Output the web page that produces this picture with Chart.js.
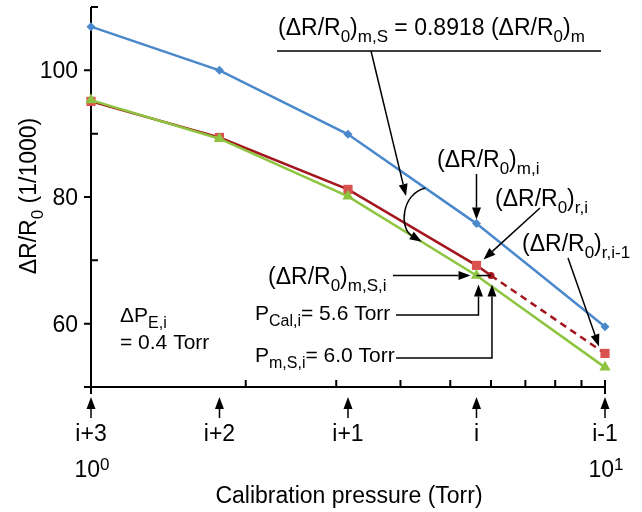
<!DOCTYPE html>
<html>
<head>
<meta charset="utf-8">
<script src="https://cdn.jsdelivr.net/npm/chart.js@4/dist/chart.umd.min.js"></script>
<style>
  html, body { margin: 0; padding: 0; background: #ffffff; }
  #wrap { width: 642px; height: 512px; }
</style>
</head>
<body>
<div id="wrap"><canvas id="c" width="642" height="512"></canvas></div>
<script>
// Calibration steps and their pressures (Torr, log axis)
const stepLabels = ['i+3', 'i+2', 'i+1', 'i', 'i-1'];
const pressures = [1.0, 1.778, 3.162, 5.623, 10.0];

// ΔR/R0 (1/1000) per calibration step
const measured = [106.9, 100.0, 89.9, 75.8, 59.5];        // (ΔR/R0)m
const reference = [95.1, 89.4, 81.2, 69.2, 55.3];        // (ΔR/R0)r
const scaledMeasured = [95.3, 89.2, 80.1, 67.6, 53.1];   // (ΔR/R0)m,S

// Interpolated reference point at the shifted pressure
const interpPressure = 6.0;
const interpValue = 67.6;

// Axis ticks
const yMajorTicks = [60, 80, 100];
const yMinorTicks = [70, 90];
const xMinorTicks = [2, 3, 4, 5, 6, 7, 8, 9];
const decadeTicks = [{ v: 1, base: '10', exp: '0' }, { v: 10, base: '10', exp: '1' }];

const FONT = '"Liberation Sans", Arial, Helvetica, sans-serif';
const BLUE = '#4A88CB';
const GREEN = '#8DC540';
const RED_MARK = '#D9524F';
const RED_LINE = '#A3161E';

function font(size) { return size + 'px ' + FONT; }

// Draw a run of text pieces; kind '' = normal, 'sub' = subscript, 'sup' = superscript
function rich(ctx, x, y, parts, size, small, align) {
  const widths = parts.map(([t, k]) => { ctx.font = font(k ? small : size); return ctx.measureText(t).width; });
  const total = widths.reduce((a, b) => a + b, 0);
  let cx = align === 'center' ? x - total / 2 : align === 'right' ? x - total : x;
  ctx.textAlign = 'left';
  ctx.textBaseline = 'alphabetic';
  parts.forEach(([t, k], i) => {
    ctx.font = font(k ? small : size);
    const dy = k === 'sub' ? size * 0.3 : k === 'sup' ? -size * 0.32 : 0;
    ctx.fillText(t, cx, y + dy);
    cx += widths[i];
  });
  return total;
}

function arrowHead(ctx, tx, ty, ang, head, half) {
  const bx = tx - Math.cos(ang) * head, by = ty - Math.sin(ang) * head;
  ctx.beginPath();
  ctx.moveTo(tx, ty);
  ctx.lineTo(bx - Math.sin(ang) * half, by + Math.cos(ang) * half);
  ctx.lineTo(bx + Math.sin(ang) * half, by - Math.cos(ang) * half);
  ctx.closePath();
  ctx.fill();
  return [bx, by];
}

// Polyline ending in a filled arrowhead at its last point
function arrow(ctx, pts, head = 12, half = 4.5) {
  const n = pts.length;
  const [tx, ty] = pts[n - 1];
  const [fx, fy] = pts[n - 2];
  const ang = Math.atan2(ty - fy, tx - fx);
  const [bx, by] = arrowHead(ctx, tx, ty, ang, head, half);
  ctx.beginPath();
  ctx.moveTo(pts[0][0], pts[0][1]);
  for (let i = 1; i < n - 1; i++) ctx.lineTo(pts[i][0], pts[i][1]);
  ctx.lineTo(bx, by);
  ctx.stroke();
}

const RdR = (sub) => [['(ΔR/R', ''], ['0', 'sub'], [')', ''], [sub, 'sub']];

const axesPlugin = {
  id: 'axesPlugin',
  beforeDatasetsDraw(chart) {
    const { ctx, chartArea: a, scales: { x, y } } = chart;
    ctx.save();
    ctx.strokeStyle = '#000';
    ctx.fillStyle = '#000';
    ctx.lineWidth = 2;
    // y axis line and ticks
    ctx.beginPath();
    ctx.moveTo(a.left, a.top); ctx.lineTo(a.left, a.bottom);
    ctx.moveTo(a.left, a.top); ctx.lineTo(a.left + 7, a.top);
    yMajorTicks.forEach(v => { const py = y.getPixelForValue(v); ctx.moveTo(a.left - 7, py); ctx.lineTo(a.left, py); });
    yMinorTicks.forEach(v => { const py = y.getPixelForValue(v); ctx.moveTo(a.left, py); ctx.lineTo(a.left + 7, py); });
    // x axis line and ticks
    ctx.moveTo(a.left - 7, a.bottom); ctx.lineTo(a.right, a.bottom);
    xMinorTicks.forEach(v => { const px = x.getPixelForValue(v); ctx.moveTo(px, a.bottom); ctx.lineTo(px, a.bottom - 7); });
    ctx.moveTo(a.left, a.bottom); ctx.lineTo(a.left, a.bottom + 7);
    ctx.moveTo(a.right, a.bottom - 7); ctx.lineTo(a.right, a.bottom + 7);
    ctx.stroke();

    // y tick labels
    ctx.font = font(23);
    ctx.textAlign = 'right';
    ctx.textBaseline = 'alphabetic';
    yMajorTicks.forEach(v => ctx.fillText(String(v), a.left - 13, y.getPixelForValue(v) + 8));

    // step arrows and labels under the x axis
    ctx.lineWidth = 1.5;
    stepLabels.forEach((lab, i) => {
      const px = x.getPixelForValue(pressures[i]);
      arrow(ctx, [[px, a.bottom + 31], [px, a.bottom + 10]], 12, 4.5);
      ctx.font = font(23);
      ctx.textAlign = 'center';
      ctx.fillText(lab, px, a.bottom + 54);
    });
    decadeTicks.forEach(d => {
      rich(ctx, x.getPixelForValue(d.v) + 1, a.bottom + 90, [[d.base, ''], [d.exp, 'sup']], 23, 17, 'center');
    });

    // axis titles
    ctx.font = font(23);
    ctx.textAlign = 'center';
    ctx.fillText('Calibration pressure (Torr)', (a.left + a.right) / 2 + 1, a.bottom + 116);
    ctx.save();
    ctx.translate(36, (a.top + a.bottom) / 2 - 1);
    ctx.rotate(-Math.PI / 2);
    rich(ctx, 0, 0, [['ΔR/R', ''], ['0', 'sub'], [' (1/1000)', '']], 23, 17, 'center');
    ctx.restore();
    ctx.restore();
  },
  afterDatasetsDraw(chart) {
    const { ctx, scales: { x, y } } = chart;
    const P = (p, v) => [x.getPixelForValue(p), y.getPixelForValue(v)];
    // pixel y on a polyline series at a given pressure
    const onLine = (vals, p) => {
      const px = x.getPixelForValue(p);
      for (let i = 0; i < pressures.length - 1; i++) {
        const [x0, y0] = P(pressures[i], vals[i]);
        const [x1, y1] = P(pressures[i + 1], vals[i + 1]);
        if (px >= x0 && px <= x1) return [px, y0 + (y1 - y0) * (px - x0) / (x1 - x0)];
      }
      return P(p, vals[vals.length - 1]);
    };
    const [bx, by] = P(pressures[3], measured[3]);
    const [rx, ry] = P(pressures[3], reference[3]);
    const [gx, gy] = P(pressures[3], scaledMeasured[3]);
    const [r4x, r4y] = P(pressures[4], reference[4]);
    const [dx, dy] = P(interpPressure, interpValue);

    ctx.save();
    ctx.fillStyle = '#000';
    ctx.strokeStyle = '#000';
    ctx.lineWidth = 1.5;

    // scaling relation, underlined, with a leader to the curved arrow
    rich(ctx, 278, 35, [...RdR('m,S'), [' = 0.8918 (ΔR/R', ''], ['0', 'sub'], [')', ''], ['m', 'sub']], 23, 17, 'left');
    ctx.beginPath(); ctx.moveTo(277, 51); ctx.lineTo(601, 51); ctx.stroke();
    arrow(ctx, [[371, 51], [406, 196]]);

    // curved arrow from the measured line down to the scaled line
    const s = onLine(measured, 4.47);
    const e = onLine(scaledMeasured, 4.40);
    const c1 = [s[0] - 24, s[1] + 6], c2 = [s[0] - 26, s[1] + 40];
    const ang = Math.atan2(e[1] - c2[1], e[0] - c2[0]);
    const hb = arrowHead(ctx, e[0], e[1], ang, 12, 4.5);
    ctx.beginPath(); ctx.moveTo(s[0], s[1]); ctx.bezierCurveTo(c1[0], c1[1], c2[0], c2[1], hb[0], hb[1]); ctx.stroke();

    // point labels
    rich(ctx, 437, 167, RdR('m,i'), 23, 17, 'left');
    arrow(ctx, [[bx, 174], [bx, by - 4]]);
    rich(ctx, 495, 206, RdR('r,i'), 23, 17, 'left');
    arrow(ctx, [[540, 208], [rx + 7, ry - 6]]);
    rich(ctx, 522, 251, RdR('r,i-1'), 23, 17, 'left');
    arrow(ctx, [[568, 258], [r4x - 6, r4y - 7]]);
    rich(ctx, 268, 284, RdR('m,S,i'), 23, 17, 'left');
    arrow(ctx, [[393, gy], [gx - 6, gy]]);

    // link from the scaled point to the interpolated reference point
    ctx.beginPath(); ctx.moveTo(gx, gy); ctx.lineTo(dx, dy); ctx.stroke();

    // pressure labels with elbow arrows
    rich(ctx, 255, 320, [['P', ''], ['Cal,i', 'sub'], ['= 5.6 Torr', '']], 21, 16, 'left');
    arrow(ctx, [[396, 315], [gx + 2, 315], [gx + 2, gy + 9]]);
    rich(ctx, 255, 362, [['P', ''], ['m,S,i', 'sub'], ['= 6.0 Torr', '']], 21, 16, 'left');
    arrow(ctx, [[396, 358], [dx + 1, 358], [dx + 1, dy + 9]]);

    // pressure step note
    rich(ctx, 120, 322, [['ΔP', ''], ['E,i', 'sub']], 21, 16, 'left');
    rich(ctx, 120, 349, [['= 0.4 Torr', '']], 21, 16, 'left');
    ctx.restore();
  }
};

const redData = pressures.map((p, i) => ({ x: p, y: reference[i] }));
redData.splice(4, 0, { x: interpPressure, y: interpValue });
const isInterp = d => d.x === interpPressure;

new Chart(document.getElementById('c'), {
  type: 'line',
  data: {
    datasets: [
      {
        label: '(ΔR/R0)m,S',
        data: pressures.map((p, i) => ({ x: p, y: scaledMeasured[i] })),
        borderColor: GREEN, backgroundColor: GREEN, borderWidth: 2.5,
        pointStyle: 'triangle', pointRadius: 6.5, pointBorderWidth: 0,
        pointBackgroundColor: GREEN, clip: false
      },
      {
        label: '(ΔR/R0)r',
        data: redData,
        borderColor: RED_LINE, backgroundColor: RED_MARK, borderWidth: 2.5,
        pointStyle: redData.map(d => isInterp(d) ? 'circle' : 'rect'),
        pointRadius: redData.map(d => isInterp(d) ? 3.5 : 6.5),
        pointBackgroundColor: redData.map(d => isInterp(d) ? RED_LINE : RED_MARK),
        pointBorderColor: redData.map(d => isInterp(d) ? RED_LINE : RED_MARK),
        pointBorderWidth: 0,
        segment: { borderDash: c => c.p0.parsed.x >= interpPressure - 1e-9 ? [7, 5] : undefined },
        clip: false
      },
      {
        label: '(ΔR/R0)m',
        data: pressures.map((p, i) => ({ x: p, y: measured[i] })),
        borderColor: BLUE, backgroundColor: BLUE, borderWidth: 2.5,
        pointStyle: 'rectRot', pointRadius: 4.5, pointBorderWidth: 0,
        pointBackgroundColor: BLUE, clip: false
      }
    ]
  },
  options: {
    responsive: false,
    animation: false,
    devicePixelRatio: 1,
    layout: { padding: { left: 91, right: 37, top: 7, bottom: 125 } },
    plugins: { legend: { display: false }, tooltip: { enabled: false } },
    elements: { line: { tension: 0 } },
    scales: {
      x: { type: 'logarithmic', min: 1, max: 10, display: false },
      y: { type: 'linear', min: 50, max: 110, display: false }
    }
  },
  plugins: [axesPlugin]
});
</script>
</body>
</html>
